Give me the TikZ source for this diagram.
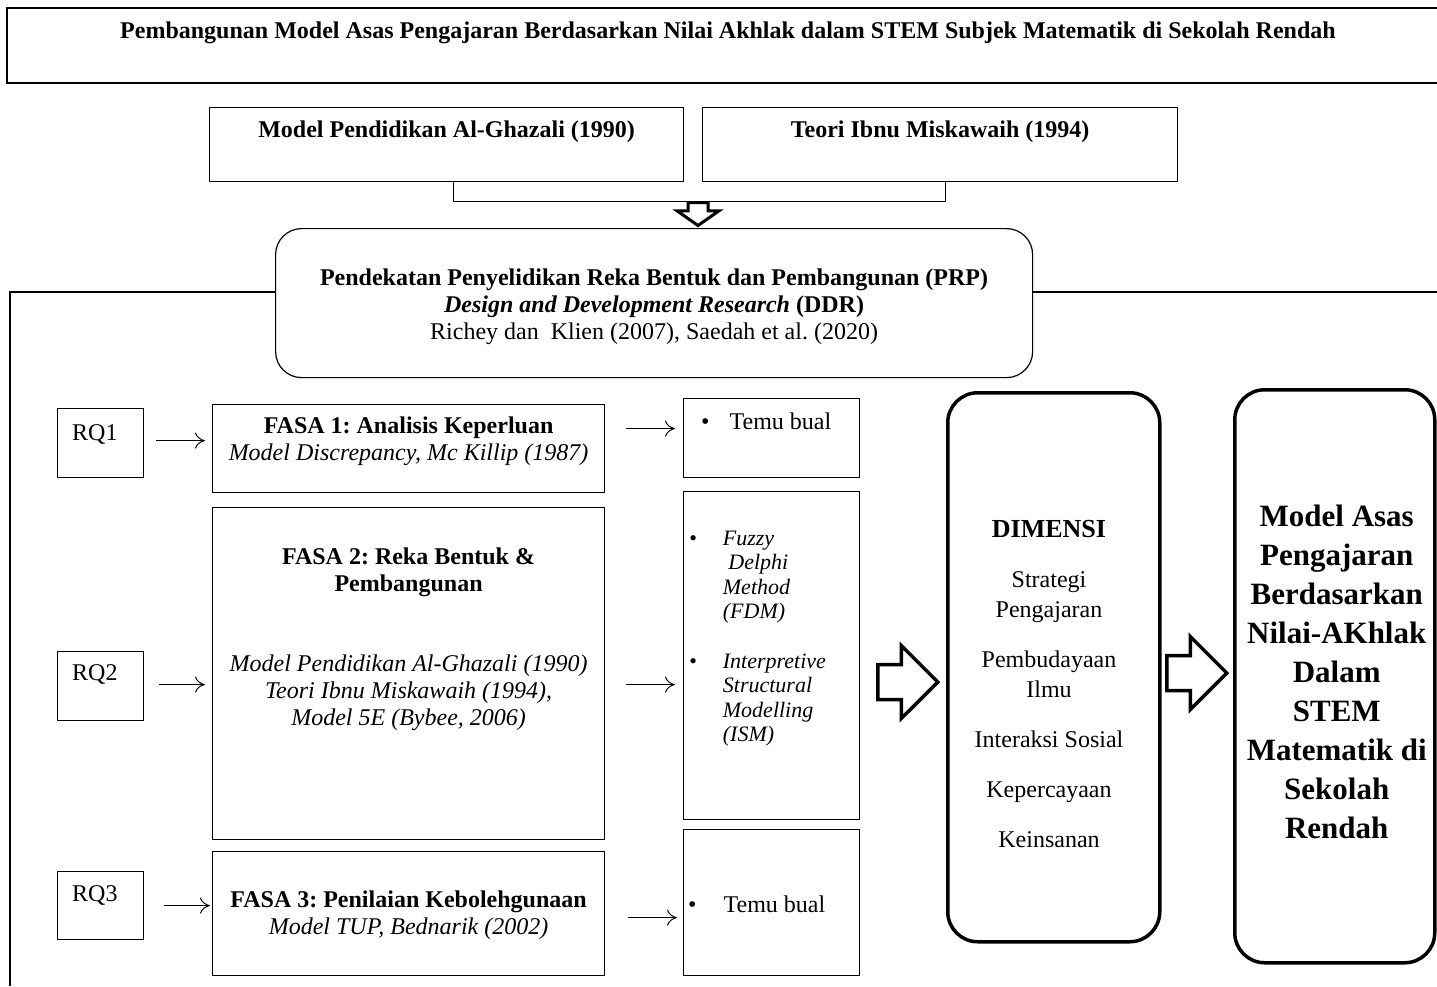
\documentclass[tikz,border=0pt]{standalone}
\usepackage{fontspec}
\setmainfont{Liberation Serif}
\frenchspacing
\usetikzlibrary{shapes.geometric, shapes.arrows, arrows.meta, positioning, calc}

\begin{document}
\begin{tikzpicture}[
    x=1pt, y=-1pt,
    >={To[length=10pt,width=16pt]},
    box/.style={rectangle, draw, line width=1.2pt, inner sep=0pt, anchor=north west},
    roundbox/.style={rectangle, draw, rounded corners=30pt, line width=3.5pt, inner sep=0pt, anchor=north west},
    frame/.style={line width=1.2pt},
    txt/.style={inner sep=0pt, align=center, font=\fontsize{24pt}{27pt}\selectfont},
    hd/.style={txt, font=\fontsize{24pt}{27pt}\selectfont\bfseries},
    arrow/.style={->, line width=1pt},
    fat/.style={single arrow, draw, line width=3.5pt, fill=white, inner xsep=0pt, inner ysep=15.75pt, minimum height=60pt, single arrow head extend=19pt}
]
    \useasboundingbox (0,0) rectangle (1437,986);

    % Title
    \draw[frame] (1437,8) -- (7,8) -- (7,83) -- (1437,83);
    \node[hd, anchor=base] (title) at (728,38) {Pembangunan Model Asas Pengajaran Berdasarkan Nilai Akhlak dalam STEM Subjek Matematik di Sekolah Rendah};

    % Theories
    \node[box, minimum width=474pt, minimum height=74pt] (ghazali) at (209,107) {};
    \node[box, minimum width=475pt, minimum height=74pt] (teori) at (702,107) {};
    \node[hd, anchor=base] (ghazalitxt) at ([yshift=-30pt]ghazali.north) {Model Pendidikan Al-Ghazali (1990)};
    \node[hd, anchor=base] (teoritxt) at ([yshift=-30pt]teori.north) {Teori Ibnu Miskawaih (1994)};
    \draw[frame] ([xshift=7pt]ghazali.south) -- ++(0,19) -| ([xshift=5.5pt]teori.south);
    \node[fat, line width=3pt, rotate=-90, inner xsep=6.5pt, inner ysep=8.5pt, minimum height=0pt, single arrow head extend=11pt, single arrow tip angle=110, anchor=tail] (fatdown) at (698,201) {};

    % Approach
    \node[box, rounded corners=26pt, minimum width=757pt, minimum height=149pt] (prp) at (275,228) {};
    \node[txt] (prptxt) at ([yshift=-4pt]prp.center) {\textbf{Pendekatan Penyelidikan Reka Bentuk dan Pembangunan (PRP)}\\\textbf{\textit{Design and Development Research} (DDR)}\\Richey dan~ Klien (2007), Saedah et al. (2020)};
    \draw[frame] (prp.west |- 0,292) -- (10,292) -- (10,986);
    \draw[frame] (prp.east |- 0,292) -- (1437,292);

    % Research questions
    \node[box, minimum width=86pt, minimum height=69pt] (rq1) at (57,408) {};
    \node[box, minimum width=86pt, minimum height=69pt] (rq2) at (57,651) {};
    \node[box, minimum width=86pt, minimum height=68pt] (rq3) at (57,871) {};
    \node[txt, anchor=base west] (rq1txt) at ([xshift=15pt, yshift=-32pt]rq1.north west) {RQ1};
    \node[txt, anchor=base west] (rq2txt) at ([xshift=15pt, yshift=-29pt]rq2.north west) {RQ2};
    \node[txt, anchor=base west] (rq3txt) at ([xshift=15pt, yshift=-30pt]rq3.north west) {RQ3};

    % Phases
    \node[box, minimum width=392pt, minimum height=88pt] (f1) at (212,404) {};
    \node[box, minimum width=392pt, minimum height=332pt] (f2) at (212,507) {};
    \node[box, minimum width=392pt, minimum height=124pt] (f3) at (212,851) {};
    \node[txt, below=13pt of f1.north] (f1txt) {\textbf{FASA 1: Analisis Keperluan}\\\textit{Model Discrepancy, Mc Killip (1987)}};
    \node[txt, below=41pt of f2.north] (f2txt) {\textbf{FASA 2: Reka Bentuk \&}\\\textbf{Pembangunan}\\[53pt]\textit{Model Pendidikan Al-Ghazali (1990)}\\\textit{Teori Ibnu Miskawaih (1994),}\\\textit{Model 5E (Bybee, 2006)}};
    \node[txt, below=40pt of f3.north] (f3txt) {\textbf{FASA 3: Penilaian Kebolehgunaan}\\\textit{Model TUP, Bednarik (2002)}};

    % Methods
    \node[box, minimum width=176pt, minimum height=79pt] (t1) at (683,398) {};
    \node[box, minimum width=176pt, minimum height=328pt] (t2) at (683,491) {};
    \node[box, minimum width=176pt, minimum height=146pt] (t3) at (683,829) {};
    \node[txt, anchor=base west] (t1txt) at (701,429) {\textbullet\hspace{20pt}Temu bual};
    \node[inner sep=0pt, anchor=north west, font=\fontsize{22pt}{24.5pt}\selectfont\itshape] (t2txt) at (689,528) {%
        \begin{tabular}{@{}l@{\hspace{26pt}}l@{}}
            \textbullet & Fuzzy\\
            & \ Delphi\\
            & Method\\
            & (FDM)\\[25pt]
            \textbullet & Interpretive\\
            & Structural\\
            & Modelling\\
            & (ISM)
        \end{tabular}};
    \node[txt, anchor=base west] (t3txt) at (688,912) {\textbullet\hspace{27pt}Temu bual};

    % Dimensions and model
    \node[roundbox, minimum width=212pt, minimum height=549pt] (dim) at (946,391) {};
    \node[hd, font=\fontsize{26pt}{30pt}\selectfont\bfseries, anchor=base] (dimhd) at (1049,537) {DIMENSI};
    \node[txt, font=\fontsize{24pt}{30pt}\selectfont, below=34pt of dimhd] (dimlist) {Strategi\\Pengajaran\\[20pt]Pembudayaan\\Ilmu\\[20pt]Interaksi Sosial\\[20pt]Kepercayaan\\[20pt]Keinsanan};
    \node[roundbox, minimum width=200pt, minimum height=573pt] (model) at (1233,388) {};
    \node[txt, font=\fontsize{31pt}{39pt}\selectfont\bfseries, below=117pt of model.north, xshift=2pt] (modeltxt) {Model Asas\\Pengajaran\\Berdasarkan\\Nilai-AKhlak\\Dalam\\STEM\\Matematik di\\Sekolah\\Rendah};

    % Connectors
    \draw[arrow, shorten <=12pt, shorten >=7pt] ([yshift=2.5pt]rq1.east) -- ([yshift=2.5pt]rq1.east -| f1.west);
    \draw[arrow, shorten <=15pt, shorten >=7pt] ([yshift=1.5pt]rq2.east) -- ([yshift=1.5pt]rq2.east -| f2.west);
    \draw[arrow, shorten <=20pt, shorten >=2pt] (rq3.east) -- (rq3.east -| f3.west);
    \draw[arrow, shorten <=21pt, shorten >=8pt] ([yshift=20pt]f1.east) -- ([yshift=20pt]f1.east -| t1.west);
    \draw[arrow, shorten <=21pt, shorten >=8pt] ([yshift=-11pt]f2.east) -- ([yshift=-11pt]f2.east -| t2.west);
    \draw[arrow, shorten <=23pt, shorten >=6pt] ([yshift=-4pt]f3.east) -- ([yshift=-4pt]f3.east -| t3.west);
    \node[fat, anchor=tail] (fat1) at (876,682) {};
    \node[fat, anchor=tail] (fat2) at (1165,673) {};
\end{tikzpicture}
\end{document}
